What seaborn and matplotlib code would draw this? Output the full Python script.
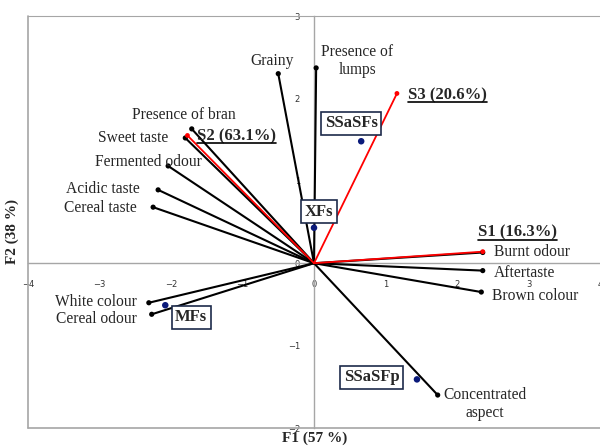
import matplotlib
matplotlib.use("Agg")
import matplotlib.pyplot as plt
import numpy as np
import pandas as pd
import seaborn as sns
from matplotlib.lines import Line2D

# ---------------------------------------------------------------------------
# Data
# ---------------------------------------------------------------------------
attr_names = [
    "Grainy", "Presence of\nlumps", "Presence of bran", "Sweet taste",
    "Fermented odour", "Acidic taste", "Cereal taste", "White colour",
    "Cereal odour", "Burnt odour", "Aftertaste", "Brown colour",
    "Concentrated\naspect",
]
attr_f1 = [-0.50, 0.03, -1.71, -1.80, -2.04, -2.18, -2.25, -2.31, -2.27, 2.36, 2.36, 2.34, 1.73]
attr_f2 = [2.30, 2.37, 1.63, 1.52, 1.18, 0.89, 0.68, -0.48, -0.62, 0.13, -0.09, -0.35, -1.60]

supp_names = ["S1 (16.3%)", "S2 (63.1%)", "S3 (20.6%)"]
supp_f1 = [2.36, -1.77, 1.16]
supp_f2 = [0.14, 1.55, 2.06]

sample_names = ["SSaSFs", "XFs", "MFs", "SSaSFp"]
sample_f1 = [0.66, 0.00, -2.08, 1.44]
sample_f2 = [1.48, 0.43, -0.51, -1.41]

x_ticks = [-4, -3, -2, -1, 0, 1, 2, 3, 4]
y_ticks = [-2, -1, 0, 1, 2, 3]

# label placement (offset in pixels from the point, ha)
attr_offsets = [
    ((-6, 13), "center"), ((41, 7), "center"), ((-8, 14), "center"),
    ((-17, 0), "right"), ((-20, 4), "center"), ((-18, 1), "right"),
    ((-16, -1), "right"), ((-12, 1), "right"), ((-15, -5), "right"),
    ((11, 0), "left"), ((11, -2), "left"), ((11, -4), "left"),
    ((47, -9), "center"),
]
supp_offsets = [((-5, 19), "left"), ((10, -1), "left"), ((11, -2), "left")]
sample_offsets = [(-10, 18), (5, 16), (26, -12), (-45, 2)]


def vectors_frame(names, xs, ys):
    rows = []
    for n, x, y in zip(names, xs, ys):
        rows.append({"name": n, "F1": 0.0, "F2": 0.0})
        rows.append({"name": n, "F1": x, "F2": y})
    return pd.DataFrame(rows)


sns.set_style("white")
plt.rcParams["font.family"] = ["Liberation Serif", "DejaVu Serif"]

fig = plt.figure(figsize=(6, 4.46), dpi=100)
ax = fig.add_axes([28 / 600, 18 / 446, 572 / 600, 412 / 446])

attr_vec = vectors_frame(attr_names, attr_f1, attr_f2)
supp_vec = vectors_frame(supp_names, supp_f1, supp_f2)

sns.lineplot(data=attr_vec, x="F1", y="F2", units="name", estimator=None, sort=False,
             color="black", lw=1.5, ax=ax, zorder=3)
sns.lineplot(data=supp_vec, x="F1", y="F2", units="name", estimator=None, sort=False,
             color="red", lw=1.3, ax=ax, zorder=4)

attr_df = pd.DataFrame({"name": attr_names, "F1": attr_f1, "F2": attr_f2})
supp_df = pd.DataFrame({"name": supp_names, "F1": supp_f1, "F2": supp_f2})
samp_df = pd.DataFrame({"name": sample_names, "F1": sample_f1, "F2": sample_f2})

sns.scatterplot(data=attr_df, x="F1", y="F2", color="black", s=14, edgecolor="none",
                ax=ax, zorder=5)
sns.scatterplot(data=supp_df, x="F1", y="F2", color="red", s=12, edgecolor="none",
                ax=ax, zorder=6)
sns.scatterplot(data=samp_df, x="F1", y="F2", color="#0a1a7a", s=22, edgecolor="none",
                ax=ax, zorder=6)

for (name, x, y), (off, ha) in zip(zip(attr_names, attr_f1, attr_f2), attr_offsets):
    ax.annotate(name, (x, y), xytext=off, textcoords="offset pixels", ha=ha,
                va="center", fontsize=11.2, linespacing=1.1, zorder=7)

supp_texts = []
for (name, x, y), (off, ha) in zip(zip(supp_names, supp_f1, supp_f2), supp_offsets):
    t = ax.annotate(name, (x, y), xytext=off, textcoords="offset pixels", ha=ha,
                    va="center", fontsize=12, fontweight="bold", zorder=7)
    supp_texts.append(t)

for name, x, y, off in zip(sample_names, sample_f1, sample_f2, sample_offsets):
    ax.annotate(name, (x, y), xytext=off, textcoords="offset pixels", ha="center",
                va="center", fontsize=12, fontweight="bold", zorder=8,
                bbox=dict(boxstyle="square,pad=0.22", fc="white", ec="#1c2a4a", lw=1.2))

# axes through the origin + outer frame
ax.set_xlim(-4, 4)
ax.set_ylim(-2, 3)
ax.set_xticks(x_ticks)
ax.set_yticks(y_ticks)
grey = "#a6a6a6"
for side in ["left", "bottom"]:
    ax.spines[side].set_position(("data", 0))
    ax.spines[side].set_color(grey)
    ax.spines[side].set_linewidth(1.0)
    ax.spines[side].set_zorder(1)
ax.spines["top"].set_color(grey)
ax.spines["right"].set_visible(False)
ax.add_line(Line2D([0, 0], [0, 1], transform=ax.transAxes, color=grey, lw=1.2, clip_on=False))
ax.add_line(Line2D([0, 1], [0, 0], transform=ax.transAxes, color=grey, lw=1.2, clip_on=False))

ax.tick_params(axis="both", direction="inout", length=6, width=0.8, color=grey,
               labelsize=6, labelcolor="#333333")
ax.tick_params(axis="x", pad=9)
ax.tick_params(axis="y", pad=7)
for lab in ax.get_xticklabels() + ax.get_yticklabels():
    lab.set_family("DejaVu Sans")

ax.set_xlabel("")
ax.set_ylabel("")
fig.text(315 / 600, 1 - 438 / 446, "F1 (57 %)", ha="center", va="center",
         fontsize=11, fontweight="bold")
fig.text(12 / 600, 1 - 232 / 446, "F2 (38 %)", ha="center", va="center",
         fontsize=11, fontweight="bold", rotation=90)

# underline the supplementary labels
fig.canvas.draw()
renderer = fig.canvas.get_renderer()
for t in supp_texts:
    bb = t.get_window_extent(renderer)
    yline = bb.y0 + 1
    fig.add_artist(Line2D([bb.x0 / 600, bb.x1 / 600], [yline / 446, yline / 446],
                          color="black", lw=1.2))

fig.savefig("out.png", dpi=100)
